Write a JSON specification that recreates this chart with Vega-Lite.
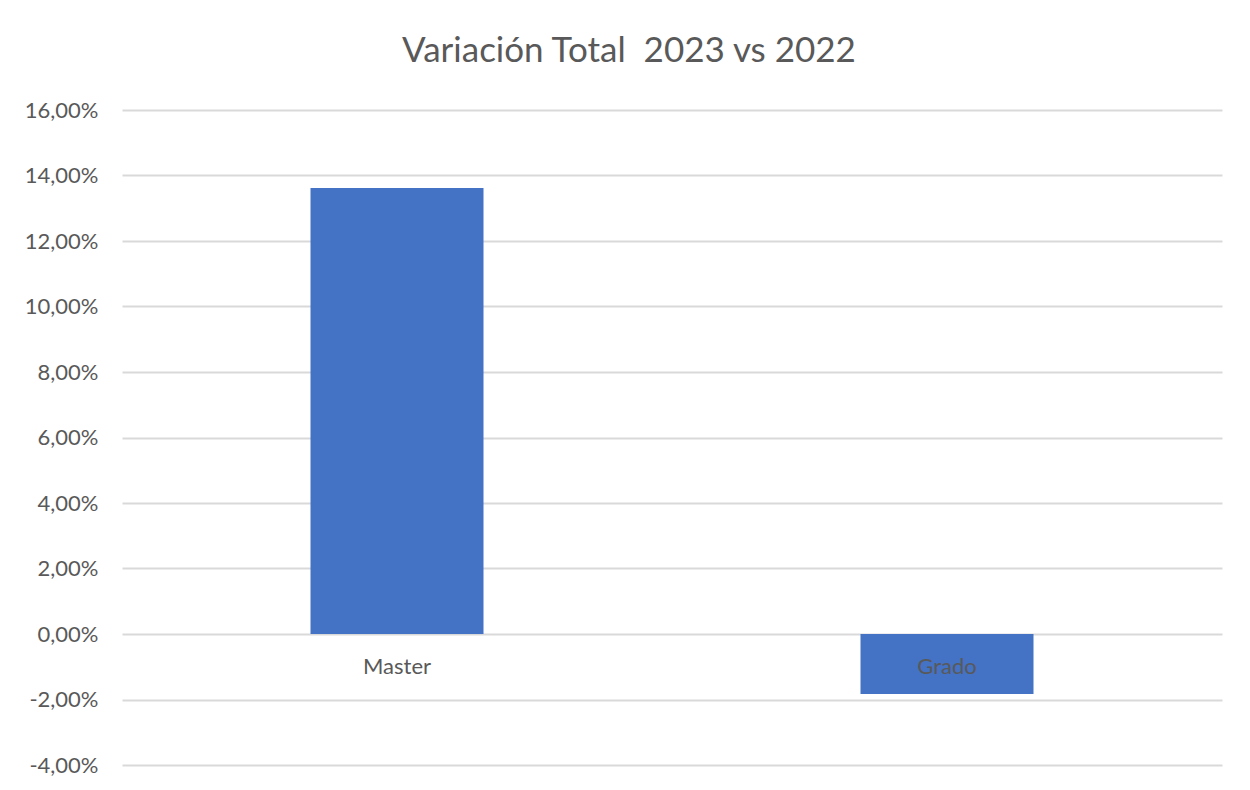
{
  "$schema": "https://vega.github.io/schema/vega-lite/v6.json",
  "autosize": "none",
  "width": 1100,
  "height": 655,
  "padding": {"left": 122, "top": 110, "right": 28, "bottom": 25},
  "background": "white",
  "config": {
    "locale": {"number": {"decimal": ",", "thousands": ".", "grouping": [3], "currency": ["", " €"], "minus": "-"}},
    "view": {"stroke": null},
    "font": "Lato"
  },
  "title": {
    "text": "Variación Total\u00a0 2023 vs 2022",
    "fontSize": 35,
    "font": "Lato",
    "fontWeight": "normal",
    "color": "#595959",
    "anchor": "middle",
    "dx": -43,
    "offset": 30
  },
  "data": {
    "values": [
      {"categoria": "Master", "variacion": 0.1362},
      {"categoria": "Grado", "variacion": -0.0183}
    ]
  },
  "encoding": {
    "x": {
      "field": "categoria",
      "type": "nominal",
      "sort": null,
      "scale": {"paddingInner": 0, "paddingOuter": 0},
      "axis": null
    }
  },
  "layer": [
    {
      "mark": {"type": "bar", "color": "#4472C4", "size": 173},
      "encoding": {
        "y": {
          "field": "variacion",
          "type": "quantitative",
          "scale": {"domain": [-0.04, 0.16], "nice": false},
          "axis": {
            "title": null,
            "values": [-0.04, -0.02, 0, 0.02, 0.04, 0.06, 0.08, 0.1, 0.12, 0.14, 0.16],
            "format": ".2%",
            "domain": false,
            "ticks": false,
            "labelFontSize": 22,
            "labelFont": "Lato",
            "labelColor": "#595959",
            "labelPadding": 24,
            "gridColor": "#d9d9d9",
            "gridWidth": 2
          }
        }
      }
    },
    {
      "mark": {"type": "text", "fontSize": 22, "font": "Lato", "color": "#595959", "baseline": "middle", "dy": 33},
      "encoding": {
        "y": {"datum": 0},
        "text": {"field": "categoria"}
      }
    }
  ]
}
